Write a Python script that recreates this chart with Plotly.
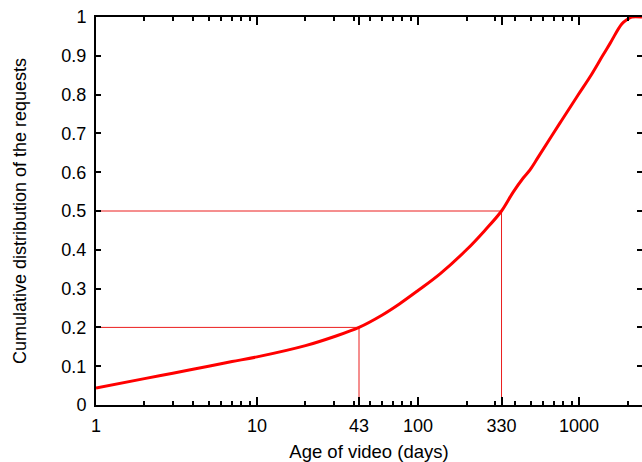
import plotly.graph_objects as go

# Data
age_days = [1, 2, 3, 5, 7, 10, 20, 30, 43, 60, 77, 100, 137, 200, 260, 330,
            389, 450, 496, 560, 762, 986, 1171, 1400, 1559, 1842, 2000, 2125, 2460]
cdf = [0.044, 0.068, 0.082, 0.100, 0.112, 0.124, 0.153, 0.176, 0.2, 0.232, 0.261,
       0.295, 0.338, 0.400, 0.450, 0.5, 0.548, 0.585, 0.606, 0.64, 0.727,
       0.799, 0.846, 0.9, 0.932, 0.982, 0.994, 1.0, 1.0]

x_tickvals = [1, 10, 43, 100, 330, 1000]
x_ticktext = ["1", "10", "43", "100", "330", "1000"]
x_minor = [2, 3, 4, 5, 6, 7, 8, 9, 20, 30, 40, 50, 60, 70, 80, 90,
           200, 300, 400, 500, 600, 700, 800, 900, 2000]
y_tickvals = [0, 0.1, 0.2, 0.3, 0.4, 0.5, 0.6, 0.7, 0.8, 0.9, 1]
y_ticktext = ["0", "0.1", "0.2", "0.3", "0.4", "0.5", "0.6", "0.7", "0.8", "0.9", "1"]

# 20th percentile and median markers
marks_x = [43, 330]
marks_y = [0.2, 0.5]

x_min, x_max = 1, 2460

FONT = "Liberation Sans, Arial, Helvetica, sans-serif"

fig = go.Figure()

for mx, my in zip(marks_x, marks_y):
    fig.add_trace(go.Scatter(x=[x_min, mx, mx], y=[my, my, 0], mode="lines",
                             line=dict(color="rgb(235,30,30)", width=1),
                             hoverinfo="skip", showlegend=False))

fig.add_trace(go.Scatter(x=age_days, y=cdf, mode="lines",
                         line=dict(color="rgb(255,0,0)", width=3, shape="spline", smoothing=1.0),
                         showlegend=False))

# dummy trace for right-side tick axis
fig.add_trace(go.Scatter(x=[x_min], y=[0], yaxis="y2", mode="lines",
                         line=dict(width=0), hoverinfo="skip", showlegend=False))

fig.update_layout(
    width=642, height=462,
    margin=dict(l=96, r=0, t=17, b=57),
    paper_bgcolor="white", plot_bgcolor="white",
    font=dict(family=FONT, size=18, color="black"),
    xaxis=dict(
        type="log", range=[0, 3.391],
        tickvals=x_tickvals, ticktext=x_ticktext,
        ticks="inside", ticklen=8, tickwidth=1.5, tickcolor="black",
        ticklabelstandoff=3, tickfont=dict(size=18),
        minor=dict(tickvals=x_minor, ticks="inside", ticklen=4, tickwidth=1.5, tickcolor="black"),
        showline=True, linewidth=2, linecolor="black", mirror="ticks",
        showgrid=False, zeroline=False,
        title=dict(text="Age of video (days)", font=dict(size=18.5), standoff=11),
    ),
    yaxis=dict(
        range=[0, 1],
        tickvals=y_tickvals, ticktext=y_ticktext,
        ticks="inside", ticklen=5, tickwidth=1.5, tickcolor="black",
        ticklabelstandoff=4, tickfont=dict(size=18),
        showline=True, linewidth=2, linecolor="black", mirror=False,
        showgrid=False, zeroline=False,
        title=dict(text="Cumulative distribution of the requests", font=dict(size=18), standoff=30),
    ),
    yaxis2=dict(
        overlaying="y", side="right", range=[0, 1],
        tickvals=y_tickvals, ticks="inside", ticklen=5, tickwidth=1.5, tickcolor="black",
        showticklabels=False, showline=False, showgrid=False, zeroline=False,
    ),
)

fig.write_html("out.html")
